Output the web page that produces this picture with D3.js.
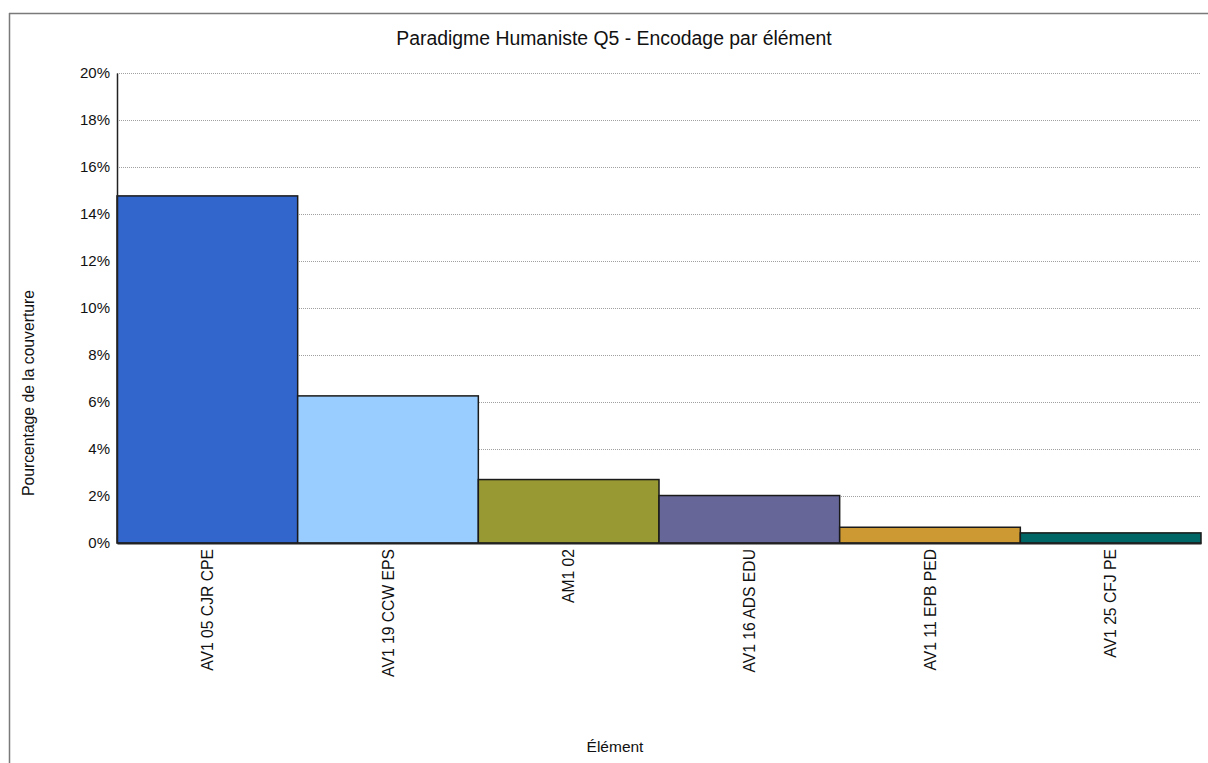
<!DOCTYPE html>
<html>
<head>
<meta charset="utf-8">
<script src="https://cdn.jsdelivr.net/npm/d3@7"></script>
<style>
  html, body { margin: 0; padding: 0; background: #fff; }
  svg { display: block; font-family: "Liberation Sans", Arial, sans-serif; }
</style>
</head>
<body>
<svg id="chart" width="1208" height="763"></svg>
<script>
const categories = ["AV1 05 CJR CPE", "AV1 19 CCW EPS", "AM1 02", "AV1 16 ADS EDU", "AV1 11 EPB PED", "AV1 25 CFJ PE"];
const values = [14.77, 6.26, 2.70, 2.02, 0.67, 0.43];
const colors = ["#3366CC", "#99CCFF", "#999933", "#666699", "#CC9933", "#006666"];
const yTicks = [0, 2, 4, 6, 8, 10, 12, 14, 16, 18, 20];
const title = "Paradigme Humaniste Q5 - Encodage par élément";
const xTitle = "Élément";
const yTitle = "Pourcentage de la couverture";

const svg = d3.select("#chart");
const W = 1208, H = 763;
const m = { left: 117, right: 1201, top: 73, bottom: 543 };

// frame
svg.append("line").attr("x1", 9).attr("x2", W).attr("y1", 13.5).attr("y2", 13.5)
  .attr("stroke", "#7a7a7a").attr("stroke-width", 1.5);
svg.append("line").attr("x1", 9.5).attr("x2", 9.5).attr("y1", 13).attr("y2", H)
  .attr("stroke", "#7a7a7a").attr("stroke-width", 1.5);

const x = d3.scaleBand().domain(categories).range([m.left, m.right]).padding(0);
const y = d3.scaleLinear().domain([0, 20]).range([m.bottom, m.top]);

// grid
svg.append("g").selectAll("line").data(yTicks.filter(d => d > 0)).join("line")
  .attr("x1", m.left).attr("x2", m.right)
  .attr("y1", d => Math.round(y(d)) + 0.5).attr("y2", d => Math.round(y(d)) + 0.5)
  .attr("stroke", "#a0a0a0").attr("stroke-width", 1).attr("stroke-dasharray", "1,1");

// bars
svg.append("g").selectAll("rect").data(categories).join("rect")
  .attr("x", d => x(d))
  .attr("y", (d, i) => y(values[i]))
  .attr("width", x.bandwidth())
  .attr("height", (d, i) => y(0) - y(values[i]))
  .attr("fill", (d, i) => colors[i])
  .attr("stroke", "#1a1a1a").attr("stroke-width", 1.5);

// y axis
const yAxis = d3.axisLeft(y).tickValues(yTicks).tickFormat(d => d + "%").tickSize(0).tickPadding(7);
const gy = svg.append("g").attr("transform", `translate(${m.left},0)`).call(yAxis);
gy.select(".domain").attr("stroke", "#222").attr("stroke-width", 1.5);
gy.selectAll("text").attr("font-size", 15).attr("fill", "#111")
  .attr("font-family", "'Liberation Sans', Arial, sans-serif");

// x axis
const xAxis = d3.axisBottom(x).tickSize(0).tickPadding(0);
const gx = svg.append("g").attr("transform", `translate(0,${m.bottom})`).call(xAxis);
gx.select(".domain").attr("stroke", "#222").attr("stroke-width", 2);
gx.selectAll("text")
  .attr("font-size", 15.7).attr("fill", "#111")
  .attr("font-family", "'Liberation Sans', Arial, sans-serif")
  .attr("text-anchor", "end")
  .attr("dy", "0.35em")
  .attr("transform", "translate(0,6) rotate(-90)")
  .attr("x", 0).attr("y", 0);

// titles
svg.append("text").attr("x", 614).attr("y", 45).attr("text-anchor", "middle")
  .attr("font-size", 19.4).attr("fill", "#111").text(title);
svg.append("text").attr("x", 615).attr("y", 752).attr("text-anchor", "middle")
  .attr("font-size", 15.5).attr("fill", "#111").text(xTitle);
svg.append("text").attr("transform", "translate(34,393) rotate(-90)").attr("text-anchor", "middle")
  .attr("font-size", 15.7).attr("fill", "#111").text(yTitle);
</script>
</body>
</html>
